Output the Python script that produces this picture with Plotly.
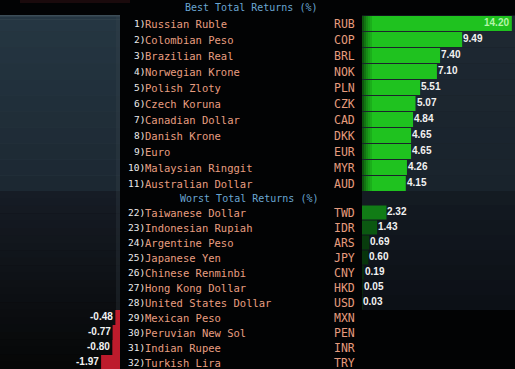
import plotly.graph_objects as go

# ---------------- data ----------------
best_ranks = ["1)", "2)", "3)", "4)", "5)", "6)", "7)", "8)", "9)", "10)", "11)"]
best_names = ["Russian Ruble", "Colombian Peso", "Brazilian Real", "Norwegian Krone",
              "Polish Zloty", "Czech Koruna", "Canadian Dollar", "Danish Krone",
              "Euro", "Malaysian Ringgit", "Australian Dollar"]
best_codes = ["RUB", "COP", "BRL", "NOK", "PLN", "CZK", "CAD", "DKK", "EUR", "MYR", "AUD"]
best_vals = [14.20, 9.49, 7.40, 7.10, 5.51, 5.07, 4.84, 4.65, 4.65, 4.26, 4.15]

worst_ranks = ["22)", "23)", "24)", "25)", "26)", "27)", "28)", "29)", "30)", "31)", "32)"]
worst_names = ["Taiwanese Dollar", "Indonesian Rupiah", "Argentine Peso", "Japanese Yen",
               "Chinese Renminbi", "Hong Kong Dollar", "United States Dollar",
               "Mexican Peso", "Peruvian New Sol", "Indian Rupee", "Turkish Lira"]
worst_codes = ["TWD", "IDR", "ARS", "JPY", "CNY", "HKD", "USD", "MXN", "PEN", "INR", "TRY"]
worst_vals = [2.32, 1.43, 0.69, 0.60, 0.19, 0.05, 0.03, -0.48, -0.77, -0.80, -1.97]

best_title = "Best Total Returns (%)"
worst_title = "Worst Total Returns (%)"

# ---------------- layout constants ----------------
W, H = 515, 369
best_y = [23.5 + 16 * i for i in range(len(best_vals))]
worst_y = [212.5 + 15 * i for i in range(len(worst_vals))]
best_title_y = 7
worst_title_y = 198

X_POS0 = 362 / W   # paper x of zero for positive bars
X_NEG0 = 120 / W   # paper x of zero for negative bars

NAME_C = "#e89e80"
RANK_C = "#ececec"
CODE_C = "#e69c7e"
TITLE_C = "#6aa6d2"
MONO = "DejaVu Sans Mono"
VAL_FONT = dict(family="Liberation Sans", size=10, color="#f2f2f2", weight="bold")

fig = go.Figure()

shapes = []


def rect(x0, x1, y0, y1, color):
    shapes.append(dict(type="rect", xref="paper", yref="y", x0=x0 / W, x1=x1 / W,
                       y0=y0, y1=y1, fillcolor=color, line=dict(width=0), layer="below"))


def lerp(c0, c1, t):
    a = [int(c0[i:i + 2], 16) for i in (1, 3, 5)]
    b = [int(c1[i:i + 2], 16) for i in (1, 3, 5)]
    return "#" + "".join("%02x" % round(a[k] + (b[k] - a[k]) * t) for k in range(3))


# faint reddish strip at the very top left
rect(20, 130, 0, 3, "#1a0a0c")
# left panel (best section)
rect(0, 120, 15, 191, "#213139")
for i, y in enumerate(best_y):
    rect(0, 120, y - 8, y + 8, lerp("#253642", "#1c2832", i / 10))
    rect(0, 120, y + 7.5, y + 8, "#2a3942")
rect(0, 120, 15, 16.5, "#3c4d57")
rect(0, 120, 19, 20, "#2e3f49")
# left panel (worst section) gradient to black
n = 24
for k in range(n):
    y0 = 191 + (369 - 191) * k / n
    y1 = 191 + (369 - 191) * (k + 1) / n
    rect(0, 120, y0, y1 + 0.5, lerp("#161c25", "#060707", k / (n - 1)))
rect(116, 120, 15, 369, "rgba(60,70,80,0.25)")

# right panel backgrounds
for i, y in enumerate(best_y):
    rect(362, 515, y - 8, y + 8, lerp("#1e2832", "#19232c", i / 10))
    rect(362, 515, y + 7.5, y + 8, "#27333d")
rect(362, 515, 191, 205, "#141b22")
for j, y in enumerate(worst_y[:7]):
    rect(362, 515, y - 7.5, y + 7.5, lerp("#121820", "#0c1016", j / 6))

# ---------------- bars ----------------
pos_y = best_y + worst_y
pos_v = best_vals + worst_vals
pos_x = [v if v > 0 else 0 for v in pos_v]
pos_w = [15] * len(best_vals) + [14] * len(worst_vals)
pos_colors = ["#1fc21f"] * len(best_vals) + ["#117c16", "#0b5811", "#083c0d", "#07340b",
                                             "#062b0a", "#062b0a", "#062b0a",
                                             "#000000", "#000000", "#000000", "#000000"]
fig.add_trace(go.Bar(x=pos_x, y=pos_y, orientation="h", width=pos_w,
                     marker=dict(color=pos_colors, line=dict(width=0)),
                     xaxis="x", yaxis="y", hoverinfo="skip", showlegend=False))

neg_y = [y for y, v in zip(worst_y, worst_vals) if v < 0]
neg_v = [v for v in worst_vals if v < 0]
fig.add_trace(go.Bar(x=neg_v, y=neg_y, orientation="h", width=15,
                     marker=dict(color="#bd1b2c", line=dict(width=0)),
                     xaxis="x2", yaxis="y", hoverinfo="skip", showlegend=False))

# shadow at left edge of green bars
for i, y in enumerate(best_y):
    for k, a in enumerate([0.55, 0.4, 0.28, 0.18, 0.1]):
        shapes.append(dict(type="rect", xref="paper", yref="y",
                           x0=(362 + 2 * k) / W, x1=(364 + 2 * k) / W,
                           y0=y - 7.5, y1=y + 7.5, fillcolor="rgba(0,0,0,%.2f)" % a,
                           line=dict(width=0), layer="above"))

# ---------------- text ----------------
ann = []


def txt(x, y, s, color, size, anchor="left", family=MONO, **kw):
    ann.append(dict(x=x / W, y=y, xref="paper", yref="y", text=s, showarrow=False,
                    xanchor=anchor, yanchor="middle",
                    font=dict(family=family, size=size, color=color), **kw))


txt(251, best_title_y, best_title, TITLE_C, 10, anchor="center")
txt(249, worst_title_y, worst_title, TITLE_C, 10, anchor="center")

for ranks, names, codes, ys in ((best_ranks, best_names, best_codes, best_y),
                                (worst_ranks, worst_names, worst_codes, worst_y)):
    for r, nm, cd, y in zip(ranks, names, codes, ys):
        txt(147, y, r, RANK_C, 9.5, anchor="right")
        txt(143, y, nm, NAME_C, 10.5)
        txt(357, y, cd, CODE_C, 11.5, anchor="right")

# value labels
for v, y in zip(pos_v, pos_y):
    if v <= 0:
        continue
    if v == max(pos_v):
        ann.append(dict(x=v, y=y - 1, xref="x", yref="y", text="%.2f" % v, showarrow=False,
                        xanchor="right", yanchor="middle", xshift=-1,
                        font=dict(family="Liberation Sans", size=10, color="#b4f5a8", weight="bold")))
    else:
        ann.append(dict(x=v, y=y - 1, xref="x", yref="y", text="%.2f" % v, showarrow=False,
                        xanchor="left", yanchor="middle", xshift=-1, font=VAL_FONT))
for v, y in zip(neg_v, neg_y):
    ann.append(dict(x=v, y=y - 1, xref="x2", yref="y", text="%.2f" % v, showarrow=False,
                    xanchor="right", yanchor="middle", xshift=0, font=VAL_FONT))

fig.update_layout(
    width=W, height=H,
    margin=dict(l=0, r=0, t=0, b=0),
    paper_bgcolor="#020304", plot_bgcolor="rgba(0,0,0,0)",
    barmode="overlay",
    xaxis=dict(domain=[X_POS0, 1], range=[0, 14.5], visible=False, fixedrange=True),
    xaxis2=dict(domain=[0, X_NEG0], range=[-12.5, 0], visible=False, fixedrange=True),
    yaxis=dict(range=[H, 0], visible=False, fixedrange=True),
    shapes=shapes, annotations=ann,
)

fig.write_html("out.html", config={"displayModeBar": False},
               post_script="document.body.style.margin='0px';document.body.style.overflow='hidden';")
